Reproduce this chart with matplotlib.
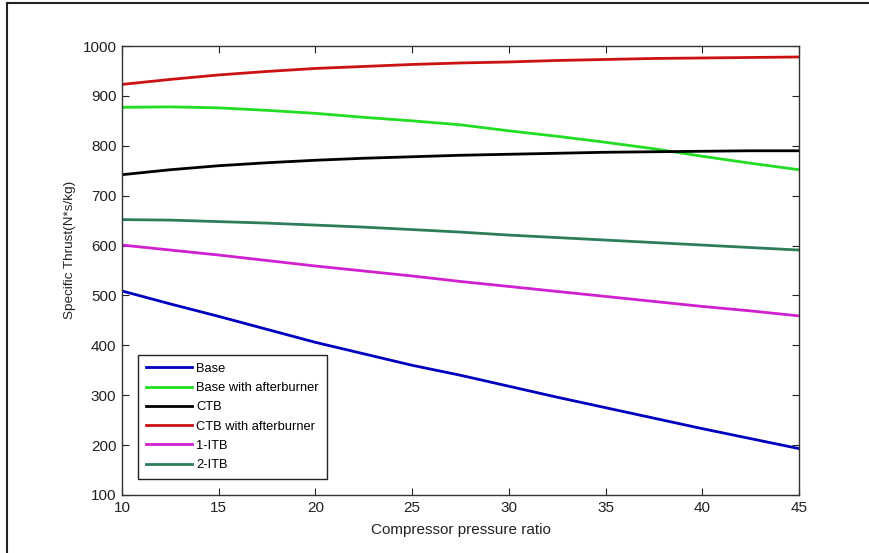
import matplotlib
matplotlib.use("Agg")
import matplotlib.pyplot as plt
from matplotlib.lines import Line2D

plt.rcParams['font.family'] = ['Liberation Sans', 'DejaVu Sans']

pressure_ratio = [10, 12.5, 15, 17.5, 20, 22.5, 25, 27.5, 30, 32.5, 35, 37.5, 40, 42.5, 45]

base = [509, 483, 458, 432, 406, 383, 360, 340, 318, 296, 275, 254, 233, 213, 193]
base_ab = [877, 878, 876, 871, 865, 857, 850, 842, 830, 819, 807, 794, 779, 765, 752]
ctb = [742, 752, 760, 766, 771, 775, 778, 781, 783, 785, 787, 788, 789, 790, 790]
ctb_ab = [923, 933, 942, 949, 955, 959, 963, 966, 968, 971, 973, 975, 976, 977, 978]
itb1 = [601, 591, 581, 570, 559, 549, 539, 528, 518, 508, 498, 488, 478, 469, 459]
itb2 = [652, 651, 648, 645, 641, 637, 632, 627, 621, 616, 611, 606, 601, 596, 591]

series_labels = ["Base", "Base with afterburner", "CTB", "CTB with afterburner", "1-ITB", "2-ITB"]
series_values = [base, base_ab, ctb, ctb_ab, itb1, itb2]
series_colors = ["#0000c0", "#22dd22", "#000000", "#cc1111", "#d020d0", "#2e7d5a"]

x_ticks = [10, 15, 20, 25, 30, 35, 40, 45]
y_ticks = [100, 200, 300, 400, 500, 600, 700, 800, 900, 1000]

fig = plt.figure(figsize=(8.69, 5.53), dpi=100)
ax = fig.add_axes([122/869, 1-495/553, (799-122)/869, (495-46)/553])

for vals, lab, col in zip(series_values, series_labels, series_colors):
    ax.plot(pressure_ratio, vals, color=col, lw=2.0, label=lab)

ax.set_xlim(10, 45)
ax.set_ylim(100, 1000)
ax.set_xticks(x_ticks)
ax.set_yticks(y_ticks)
ax.tick_params(direction='in', length=5, width=0.8, top=True, right=True,
               labelsize=11, colors='#222222', pad=4)
for sp in ax.spines.values():
    sp.set_color('#333333')
    sp.set_linewidth(1.0)

ax.set_xlabel("Compressor pressure ratio", fontsize=11, color='#222222', labelpad=6)
ax.set_ylabel("Specific Thrust(N*s/kg)", fontsize=9.7, color='#222222')
ax.yaxis.set_label_coords((76-122)/677, (495-250)/449)

leg = ax.legend(loc='lower left', bbox_to_anchor=(16/677, 16/449), borderaxespad=0,
                fontsize=9.3, handlelength=3.6, handletextpad=0.3, labelspacing=0.56,
                fancybox=False, framealpha=1, edgecolor='#222222', borderpad=0.6)
leg.get_frame().set_linewidth(1.0)
for h in leg.get_lines():
    h.set_linewidth(2.0)

# partial outer frame (top and left)
fig.add_artist(Line2D([7/869, 1], [1-3/553, 1-3/553], transform=fig.transFigure, color='#222222', lw=1.5))
fig.add_artist(Line2D([7/869, 7/869], [0, 1-3/553], transform=fig.transFigure, color='#222222', lw=1.5))

fig.savefig("out.png", dpi=100)
